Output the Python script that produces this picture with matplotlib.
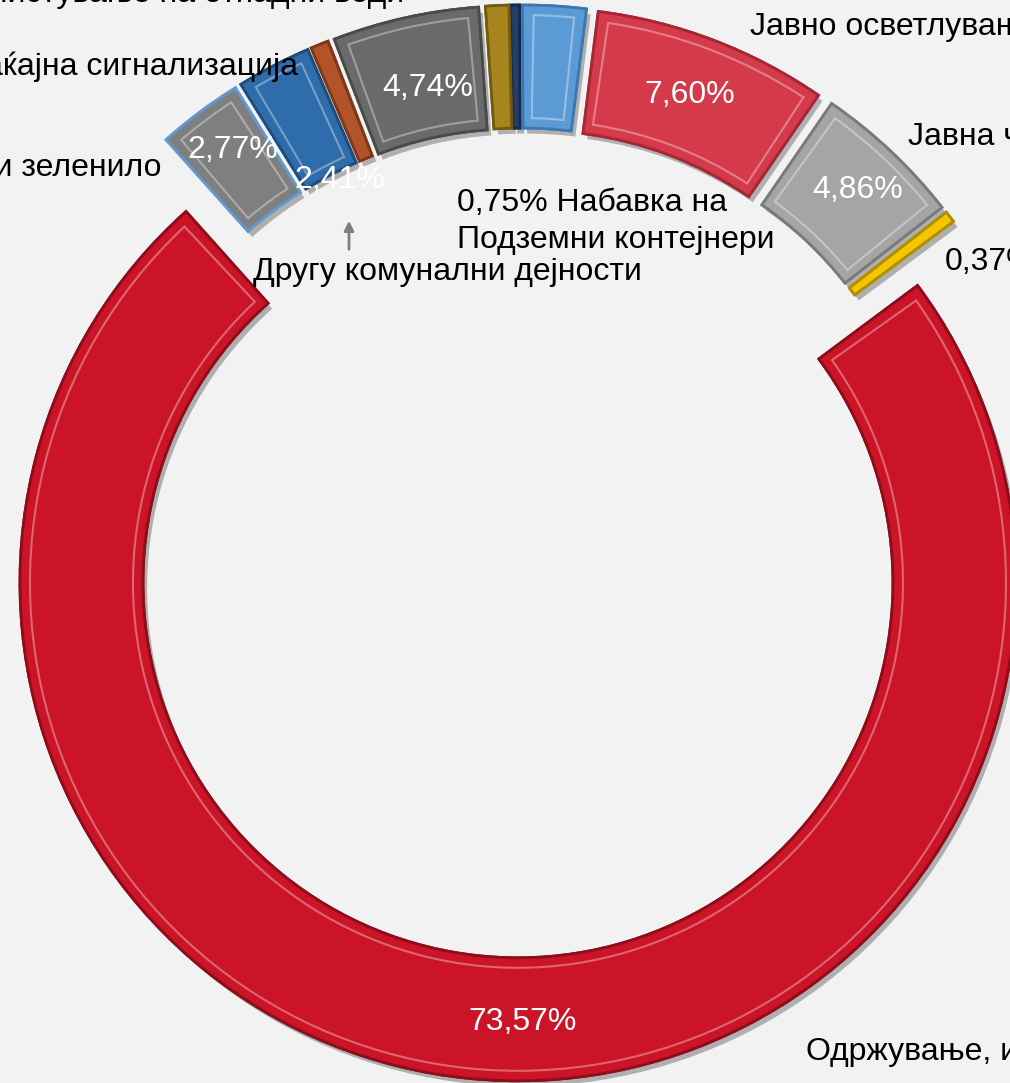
import numpy as np
import matplotlib.pyplot as plt
import matplotlib.patheffects as pe
from matplotlib.patches import Wedge

plt.rcParams['font.family'] = ['Liberation Sans', 'DejaVu Sans']

W, H = 1010, 1083

# slices clockwise, starting just left of 12 o'clock
shares = [0.30, 2.05, 7.60, 4.86, 0.37, 73.57, 2.77, 2.41, 0.58, 4.74, 0.75]
colors = ['#21406F', '#5B9BD5', '#D43A4A', '#A5A5A5', '#F4C500', '#CB1427',
          '#7F7F7F', '#2E6CAB', '#B3532A', '#6A6A6A', '#A7851E']
edges = ['#142849', '#3E78AE', '#A52634', '#7A7A7A', '#B08E00', '#8E0D1B',
         '#5E9BD2', '#1E4C7C', '#7E3718', '#4A4A4A', '#735A10']

# percentage labels inside slices (text, image x, image y)
pct_text = ['73,57%', '7,60%', '4,86%', '4,74%', '2,77%', '2,41%']
pct_pos = [(523, 1022), (690, 95), (858, 190), (428, 88), (233, 150), (340, 180)]

# category labels outside (text, x, y, ha)
cat_text = ['Прочистување на отпадни води', 'Сообраќајна сигнализација',
            'Паркови и зеленило', 'Другу комунални дејности',
            '0,75% Набавка на', 'Подземни контејнери',
            'Јавно осветлување', 'Јавна чистота', '0,37%',
            'Одржување, изградба и реконструкција']
cat_pos = [(404, -6, 'right'), (298, 67, 'right'), (161, 168, 'right'),
           (253, 272, 'left'), (457, 203, 'left'), (457, 240, 'left'),
           (750, 27, 'left'), (908, 137, 'left'), (945, 262, 'left'),
           (806, 1052, 'left')]

fig = plt.figure(figsize=(W / 100, H / 100), dpi=100, facecolor='#F2F2F2')
ax = fig.add_axes([0, 0, 1, 1])
ax.set_facecolor('#F2F2F2')

cx, cy = 522, H - 543
r_out, ring = 498, 123
start = 90 + 1.3

wedges, _ = ax.pie(shares, colors=colors, startangle=start, counterclock=False,
                   center=(cx, cy), radius=r_out, explode=[40] * len(shares),
                   wedgeprops=dict(width=ring, linewidth=2),
                   frame=True)
ax.set_xlim(0, W)
ax.set_ylim(0, H)
ax.axis('off')

for w, ec in zip(wedges, edges):
    w.set_edgecolor(ec)
    w.set_path_effects([pe.withSimplePatchShadow(offset=(3, -4), alpha=0.35,
                                                 shadow_rgbFace='#333333'),
                        pe.Normal()])
    # inner bevel ridge
    d = 10
    rm = w.r - w.width / 2
    dth = np.degrees(d / rm)
    if w.theta2 - w.theta1 > 2 * dth + 1:
        ax.add_patch(Wedge(w.center, w.r - d, w.theta1 + dth, w.theta2 - dth,
                           width=w.width - 2 * d, facecolor='none',
                           edgecolor='white', alpha=0.35, lw=1.5))

for t, (x, y) in zip(pct_text, pct_pos):
    ax.text(x, H - y, t, color='white', fontsize=23, ha='center', va='center')

for t, (x, y, ha) in zip(cat_text, cat_pos):
    ax.text(x, H - y, t, color='black', fontsize=23, ha=ha, va='center')

ax.annotate('', xy=(349, H - 218), xytext=(349, H - 252),
            arrowprops=dict(arrowstyle='-|>', color='#7F7F7F', lw=2,
                            mutation_scale=14))

fig.savefig('out.png', dpi=100, facecolor='#F2F2F2')
